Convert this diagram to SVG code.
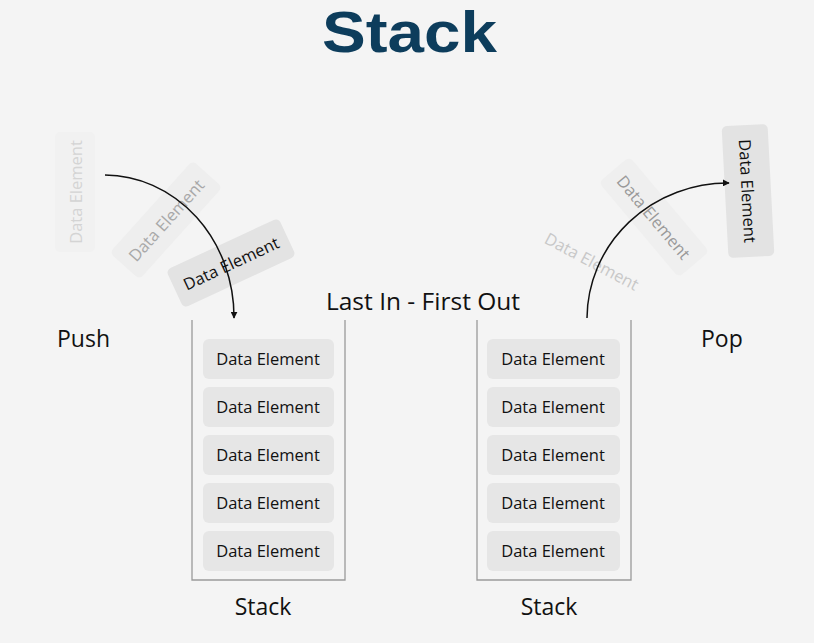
<svg xmlns="http://www.w3.org/2000/svg" width="814" height="643" viewBox="0 0 814 643">
<defs>
<style>
.bg{fill:#f4f4f4}
.title{font-family:"Liberation Sans",Arial,sans-serif;font-weight:bold;font-size:57px;fill:#0d3d5c}
.lbl{font-family:"Open Sans","Noto Sans",sans-serif;font-size:23px;fill:#111}
.item{fill:#e6e6e6}
.itxt{font-family:"Open Sans","Noto Sans",sans-serif;font-size:16.5px;fill:#111;text-anchor:middle;dominant-baseline:central}
.wall{fill:none;stroke:#9a9a9a;stroke-width:1.3}
.arrow{fill:none;stroke:#111;stroke-width:1.5;marker-end:url(#ah)}
</style>
<marker id="ah" viewBox="0 0 10 10" refX="9" refY="5" markerWidth="7" markerHeight="7" markerUnits="userSpaceOnUse" orient="auto">
<path d="M0,0 L10,5 L0,10 z" fill="#111"/>
</marker>
</defs>
<rect class="bg" x="0" y="0" width="814" height="643"/>
<text class="title" x="322" y="52" textLength="175" lengthAdjust="spacingAndGlyphs">Stack</text>
<text class="lbl" x="423" y="310" text-anchor="middle" style="font-size:24.5px">Last In - First Out</text>
<text class="lbl" x="57" y="347">Push</text>
<text class="lbl" x="701" y="347">Pop</text>

<g id="stack-left">
<path class="wall" d="M192,320 V580 H345 V320"/>
<g id="l1"><rect class="item" x="203" y="339" width="131" height="40" rx="6"/><text class="itxt" x="268" y="358">Data Element</text></g>
<g id="l2"><rect class="item" x="203" y="387" width="131" height="40" rx="6"/><text class="itxt" x="268" y="406">Data Element</text></g>
<g id="l3"><rect class="item" x="203" y="435" width="131" height="40" rx="6"/><text class="itxt" x="268" y="454">Data Element</text></g>
<g id="l4"><rect class="item" x="203" y="483" width="131" height="40" rx="6"/><text class="itxt" x="268" y="502">Data Element</text></g>
<g id="l5"><rect class="item" x="203" y="531" width="131" height="40" rx="6"/><text class="itxt" x="268" y="550">Data Element</text></g>
<text class="lbl" x="263" y="615" text-anchor="middle">Stack</text>
</g>

<g id="stack-right">
<path class="wall" d="M477,320 V580 H631 V320"/>
<g id="r1"><rect class="item" x="487" y="339" width="133" height="40" rx="6"/><text class="itxt" x="553" y="358">Data Element</text></g>
<g id="r2"><rect class="item" x="487" y="387" width="133" height="40" rx="6"/><text class="itxt" x="553" y="406">Data Element</text></g>
<g id="r3"><rect class="item" x="487" y="435" width="133" height="40" rx="6"/><text class="itxt" x="553" y="454">Data Element</text></g>
<g id="r4"><rect class="item" x="487" y="483" width="133" height="40" rx="6"/><text class="itxt" x="553" y="502">Data Element</text></g>
<g id="r5"><rect class="item" x="487" y="531" width="133" height="40" rx="6"/><text class="itxt" x="553" y="550">Data Element</text></g>
<text class="lbl" x="549" y="615" text-anchor="middle">Stack</text>
</g>

<g id="push-1" transform="translate(75,192) rotate(-90)">
<rect x="-60" y="-20" width="120" height="40" rx="5" fill="#f1f1f1"/>
<text class="itxt" x="0" y="0" style="fill:#d4d4d4">Data Element</text>
</g>
<g id="push-2" transform="translate(166,220) rotate(-48)">
<rect x="-62" y="-20" width="124" height="40" rx="5" fill="#eeeeee"/>
<text class="itxt" x="0" y="0" style="fill:#a8a8a8">Data Element</text>
</g>
<g id="push-3" transform="translate(231,263) rotate(-25)">
<rect x="-62" y="-21" width="124" height="42" rx="5" fill="#e3e3e3"/>
<text class="itxt" x="0" y="0">Data Element</text>
</g>

<g id="pop-1" transform="translate(592,261) rotate(28)">
<text class="itxt" x="0" y="0" style="fill:#c8c8c8">Data Element</text>
</g>
<g id="pop-2" transform="translate(654,217) rotate(50)">
<rect x="-62" y="-20" width="124" height="40" rx="5" fill="#efefef"/>
<text class="itxt" x="0" y="0" style="fill:#999">Data Element</text>
</g>
<g id="pop-3" transform="translate(748,191) rotate(87)">
<rect x="-66" y="-23" width="132" height="46" rx="5" fill="#e3e3e3"/>
<text class="itxt" x="0" y="0">Data Element</text>
</g>

<g id="connectors">
<path class="arrow" d="M105,175 A130,142 0 0 1 234,318"/>
<path class="arrow" d="M587,318 A141,136 0 0 1 729,183"/>
</g>
</svg>
